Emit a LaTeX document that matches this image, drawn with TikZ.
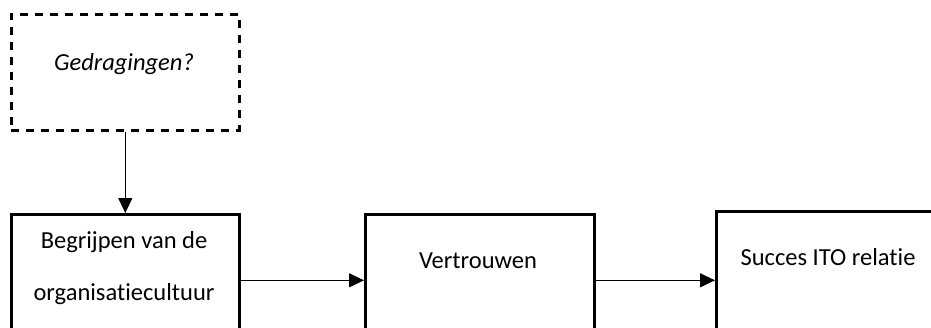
\documentclass[tikz,border=0pt]{standalone}
\usepackage{fontspec}
\setmainfont{Carlito}[Ligatures=NoCommon]
\usetikzlibrary{arrows.meta}
\begin{document}
\begin{tikzpicture}[x=1pt,y=-1pt,
  box/.style={draw,line width=2.6pt,inner sep=0pt,anchor=north west},
  dbox/.style={draw,line width=2.6pt,dash pattern=on 8pt off 7pt,inner sep=0pt,anchor=north west},
  lbl/.style={font=\fontsize{24.5}{29}\selectfont,anchor=base,inner sep=0pt},
  conn/.style={line width=1.2pt,-{Triangle[length=15pt,width=14pt]}}]
\useasboundingbox (0,0) rectangle (931,327);
\clip (0,0) rectangle (931,327);
\node[dbox,minimum width=228pt,minimum height=116pt] (g) at (10,13) {};
\node[box,minimum width=228pt,minimum height=132pt] (b1) at (10,213) {};
\node[box,minimum width=229pt,minimum height=132pt] (b2) at (364,213) {};
\node[box,minimum width=300pt,minimum height=138pt] (b3) at (715,210) {};
\node[lbl,font=\fontsize{24.5}{29}\selectfont\itshape] (t0) at (124,70) {Gedragingen?};
\node[lbl] (t1a) at (124,248) {Begrijpen van de};
\node[lbl] (t1b) at (124,300) {organisatiecultuur};
\node[lbl] (t2) at (478,268) {Vertrouwen};
\node[lbl] (t3) at (828,265) {Succes ITO relatie};
\draw[conn] (g.south) -- (b1.north);
\draw[conn] (b1.east) -- (b2.west);
\draw[conn] (b2.east) -- (b3.west);
\end{tikzpicture}
\end{document}
